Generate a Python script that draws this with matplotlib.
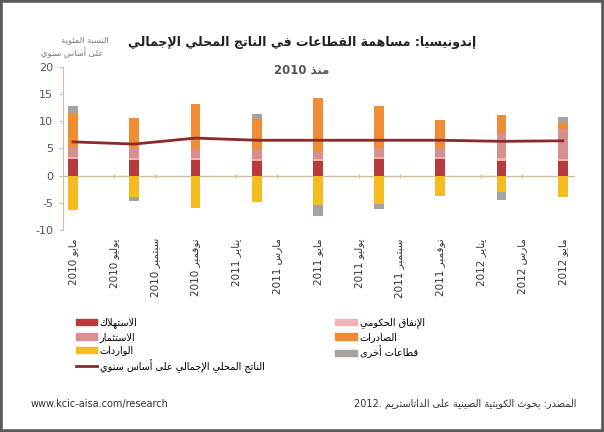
import re
import matplotlib
matplotlib.use('Agg')
import matplotlib.pyplot as plt
from matplotlib.patches import Rectangle, Patch
from matplotlib.lines import Line2D

plt.rcParams['font.family'] = ['DejaVu Sans']

# data (percentage points, quarterly, months counted from May 2010)
bar_months = [0, 3, 6, 9, 12, 15, 18, 21, 24]
consumption = [3.0, 2.9, 2.9, 2.6, 2.6, 3.0, 3.0, 2.7, 2.6]
government = [0.4, 0.3, 0.4, 0.4, 0.4, 0.4, 0.4, 0.6, 0.5]
investment = [1.9, 1.8, 1.6, 1.8, 1.4, 1.6, 1.7, 4.6, 5.4]
exports = [6.2, 5.6, 8.2, 5.7, 9.8, 7.9, 5.2, 3.3, 1.2]
imports = [-6.3, -4.0, -6.0, -4.8, -5.5, -5.2, -3.8, -3.0, -4.0]
others = [1.3, -0.6, 0.0, 0.9, -1.9, -0.9, 0.0, -1.5, 1.0]
gdp_yoy = [6.2, 5.8, 6.9, 6.5, 6.5, 6.5, 6.5, 6.3, 6.4]

label_months = list(range(0, 25, 2))
month_labels = ['مايو 2010', 'يوليو 2010', 'سبتمبر 2010', 'نوفمبر 2010',
                'يناير 2011', 'مارس 2011', 'مايو 2011', 'يوليو 2011',
                'سبتمبر 2011', 'نوفمبر 2011', 'يناير 2012', 'مارس 2012',
                'مايو 2012']
yticks = [-10, -5, 0, 5, 10, 15, 20]

series_names = ['الاستهلاك', 'الإنفاق الحكومي', 'الاستثمار', 'الصادرات',
                'الواردات', 'قطاعات أخرى']
line_name = 'الناتج المحلي الإجمالي على أساس سنوي'
title = 'إندونيسيا: مساهمة القطاعات في الناتج المحلي الإجمالي'
subtitle = 'منذ 2010'
unit_label = ['النسبة المئوية', 'على أساس سنوي']
source = 'المصدر: بحوث الكويتية الصينية على الداتاستريم 2012.'
website = 'www.kcic-aisa.com/research'

colors = ['#B73A3C', '#EFB4B2', '#D98E8F', '#F08C33', '#F5BC1F', '#A8A39F']
line_color = '#8A2A2A'
axis_color = '#CDBFA3'


# --- minimal arabic shaping + right-to-left ordering (matplotlib has no bidi)
def _dual(b):
    return (b, b + 1, b + 2, b + 3)


def _right(b):
    return (b, b + 1)


FORMS = {0x0621: (0xFE80,), 0x0622: _right(0xFE81), 0x0623: _right(0xFE83),
         0x0624: _right(0xFE85), 0x0625: _right(0xFE87), 0x0626: _dual(0xFE89),
         0x0627: _right(0xFE8D), 0x0628: _dual(0xFE8F), 0x0629: _right(0xFE93),
         0x062A: _dual(0xFE95), 0x062B: _dual(0xFE99), 0x062C: _dual(0xFE9D),
         0x062D: _dual(0xFEA1), 0x062E: _dual(0xFEA5), 0x062F: _right(0xFEA9),
         0x0630: _right(0xFEAB), 0x0631: _right(0xFEAD), 0x0632: _right(0xFEAF),
         0x0633: _dual(0xFEB1), 0x0634: _dual(0xFEB5), 0x0635: _dual(0xFEB9),
         0x0636: _dual(0xFEBD), 0x0637: _dual(0xFEC1), 0x0638: _dual(0xFEC5),
         0x0639: _dual(0xFEC9), 0x063A: _dual(0xFECD), 0x0641: _dual(0xFED1),
         0x0642: _dual(0xFED5), 0x0643: _dual(0xFED9), 0x0644: _dual(0xFEDD),
         0x0645: _dual(0xFEE1), 0x0646: _dual(0xFEE5), 0x0647: _dual(0xFEE9),
         0x0648: _right(0xFEED), 0x0649: _right(0xFEEF), 0x064A: _dual(0xFEF1)}
LAM_ALEF = {0x0622: 0xFEF5, 0x0623: 0xFEF7, 0x0625: 0xFEF9, 0x0627: 0xFEFB}


def ar(text):
    cps = [ord(c) for c in text]
    out = []
    prev_joins = False
    i = 0
    while i < len(cps):
        c = cps[i]
        if c not in FORMS:
            out.append(chr(c))
            prev_joins = False
            i += 1
            continue
        nxt = cps[i + 1] if i + 1 < len(cps) else None
        if c == 0x0644 and nxt in LAM_ALEF:
            out.append(chr(LAM_ALEF[nxt] + (1 if prev_joins else 0)))
            prev_joins = False
            i += 2
            continue
        forms = FORMS[c]
        joins_next = len(forms) == 4 and nxt in FORMS
        if prev_joins and joins_next:
            f = forms[3]
        elif prev_joins:
            f = forms[1]
        elif joins_next:
            f = forms[2]
        else:
            f = forms[0]
        out.append(chr(f))
        prev_joins = len(forms) == 4
        i += 1
    shaped = ''.join(out)
    tokens = re.findall(r'[0-9A-Za-z./\-]+|.', shaped)
    return ''.join(reversed(tokens))


fig = plt.figure(figsize=(6.04, 4.32), dpi=100)
ax = fig.add_axes([0.104, 0.468, 0.848, 0.377])

series = [consumption, government, investment, exports, imports, others]
pos_base = [0.0] * len(bar_months)
neg_base = [0.0] * len(bar_months)
for vals, col in zip(series, colors):
    bottoms = []
    for k, v in enumerate(vals):
        if v >= 0:
            bottoms.append(pos_base[k])
            pos_base[k] += v
        else:
            bottoms.append(neg_base[k])
            neg_base[k] += v
    ax.bar(bar_months, vals, bottom=bottoms, width=0.48, color=col,
           linewidth=0, zorder=2)

ax.plot(bar_months, gdp_yoy, color=line_color, lw=2, zorder=3)

ax.axhline(0, color=axis_color, lw=1, zorder=1)
ax.plot(label_months, [0] * len(label_months), ls='none', marker='|',
        ms=3, color=axis_color, zorder=1)

ax.set_xlim(-0.5, 24.6)
ax.set_ylim(-10, 20)
ax.set_yticks(yticks)
ax.set_yticklabels([str(t) for t in yticks], fontsize=8, color='#555555')
ax.set_xticks(label_months)
ax.set_xticklabels([ar(s) for s in month_labels], rotation=90, fontsize=7.5,
                   color='#333333')
ax.tick_params(axis='x', length=0, pad=6)
ax.tick_params(axis='y', length=3, color=axis_color, pad=4)
for side in ['top', 'right', 'bottom']:
    ax.spines[side].set_visible(False)
ax.spines['left'].set_color(axis_color)

fig.text(0.5, 0.902, ar(title), ha='center', va='center', fontsize=9,
         fontweight='bold', color='#222222')
fig.text(0.5, 0.838, ar(subtitle), ha='center', va='center', fontsize=8.5,
         fontweight='bold', color='#555555')
fig.text(0.14, 0.908, ar(unit_label[0]), ha='center', va='center',
         fontsize=6, color='#777777')
fig.text(0.12, 0.879, ar(unit_label[1]), ha='center', va='center',
         fontsize=6, color='#777777')

# legend, two columns like the original
left_handles = [Patch(color=colors[0]), Patch(color=colors[2]),
                Patch(color=colors[4]), Line2D([], [], color=line_color, lw=2)]
left_labels = [ar(series_names[0]), ar(series_names[2]), ar(series_names[4]),
               ar(line_name)]
right_handles = [Patch(color=colors[1]), Patch(color=colors[3]),
                 Patch(color=colors[5])]
right_labels = [ar(series_names[1]), ar(series_names[3]), ar(series_names[5])]

leg_kw = dict(frameon=False, fontsize=7, handlelength=2.2, handleheight=0.6,
              handletextpad=0.3, labelspacing=0.35, borderpad=0,
              borderaxespad=0)
fig.legend(left_handles, left_labels, loc='upper left',
           bbox_to_anchor=(0.125, 0.265), **leg_kw)
fig.legend(right_handles, right_labels, loc='upper left',
           bbox_to_anchor=(0.555, 0.265), **leg_kw)

fig.text(0.05, 0.065, website, ha='left', va='center', fontsize=7,
         color='#333333')
fig.text(0.955, 0.065, ar(source), ha='right', va='center', fontsize=7,
         color='#333333')

fig.patches.append(Rectangle((0, 0), 1, 1, transform=fig.transFigure,
                             fill=False, edgecolor='#5A5A5A', lw=4))

fig.savefig('out.png', dpi=100)
